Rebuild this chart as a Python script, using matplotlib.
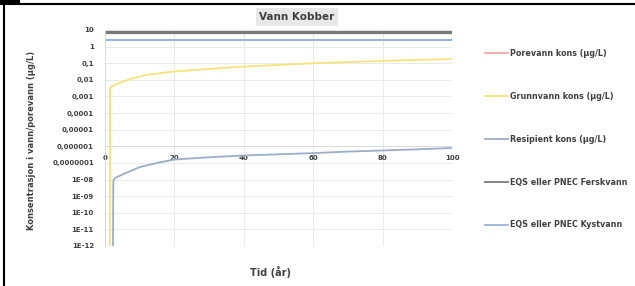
import matplotlib
matplotlib.use("Agg")
import matplotlib.pyplot as plt
from matplotlib.lines import Line2D

# ---------------- data ----------------
title = "Vann Kobber"
x_label = "Tid (år)"
y_label = "Konsentrasjon i vann/porevann (µg/L)"

series_names = ["Porevann kons (µg/L)", "Grunnvann kons (µg/L)", "Resipient kons (µg/L)",
                "EQS eller PNEC Ferskvann", "EQS eller PNEC Kystvann"]

porevann_t = []
porevann_v = []

grunnvann_t = [1.4, 1.5, 2, 4, 8, 12, 20, 30, 40, 50, 60, 70, 80, 90, 100]
grunnvann_v = [1e-12, 3.2e-3, 4.0e-3, 6.3e-3, 1.26e-2, 2.0e-2, 3.2e-2, 4.5e-2,
               6.3e-2, 7.9e-2, 0.10, 0.117, 0.138, 0.158, 0.178]

resipient_t = [2.3, 2.4, 3, 5, 10, 15, 20, 30, 40, 50, 60, 70, 80, 90, 100]
resipient_v = [1e-12, 8.9e-9, 1.26e-8, 2.0e-8, 5.6e-8, 1.0e-7, 1.6e-7, 2.2e-7,
               2.8e-7, 3.3e-7, 3.9e-7, 4.8e-7, 5.6e-7, 6.6e-7, 7.9e-7]

eqs_t = [0, 100]
eqs_fersk = [7.8, 7.8]
eqs_kyst = [2.6, 2.6]

y_ticks = [10, 1, 0.1, 0.01, 0.001, 1e-4, 1e-5, 1e-6, 1e-7, 1e-8, 1e-9, 1e-10, 1e-11, 1e-12]
y_tick_labels = ["10", "1", "0,1", "0,01", "0,001", "0,0001", "0,00001", "0,000001",
                 "0,0000001", "1E-08", "1E-09", "1E-10", "1E-11", "1E-12"]
x_ticks = [0, 20, 40, 60, 80, 100]
x_tick_labels = ["0", "20", "40", "60", "80", "100"]

colors = ["#f4a0a0", "#f7e27a", "#9aaec8", "#7a7a7a", "#9db3dd"]
widths = [1.2, 1.3, 1.3, 2.3, 1.5]

# ---------------- figure ----------------
fig = plt.figure(figsize=(6.35, 2.86), dpi=100)
ax = fig.add_axes([105/635, 1-246/286, (452-105)/635, (246-30)/286])

ax.plot(porevann_t, porevann_v, color=colors[0], lw=widths[0])
ax.plot(grunnvann_t, grunnvann_v, color=colors[1], lw=widths[1])
ax.plot(resipient_t, resipient_v, color=colors[2], lw=widths[2])
ax.plot(eqs_t, eqs_fersk, color=colors[3], lw=widths[3], solid_capstyle="butt")
ax.plot(eqs_t, eqs_kyst, color=colors[4], lw=widths[4], solid_capstyle="butt")

ax.set_yscale("log")
ax.set_ylim(1e-12, 10)
ax.set_xlim(0, 100)
ax.set_yticks(y_ticks)
ax.set_yticklabels(y_tick_labels)
ax.minorticks_off()
ax.set_xticks(x_ticks)
ax.set_xticklabels(x_tick_labels)

ax.grid(True, which="major", color="#e6e6e6", lw=0.6)
ax.set_axisbelow(True)
for s in ["top", "right"]:
    ax.spines[s].set_visible(False)
ax.spines["left"].set_color("#d9d9d9")
ax.spines["left"].set_linewidth(0.6)
ax.spines["bottom"].set_position(("data", 1e-6))
ax.spines["bottom"].set_color("#d9d9d9")
ax.spines["bottom"].set_linewidth(0.6)
ax.tick_params(axis="both", length=0, labelsize=5, labelcolor="#404040")
ax.tick_params(axis="x", pad=6)
ax.tick_params(axis="y", pad=8)
for lab in ax.get_xticklabels() + ax.get_yticklabels():
    lab.set_fontweight("bold")

# title with light grey box
fig.text(297/635, 1-17/286, title, ha="center", va="center", fontsize=7.5,
         fontweight="bold", color="#404040",
         bbox=dict(boxstyle="square,pad=0.35", facecolor="#e8e8e8", edgecolor="none"))

fig.text(270/635, 1-272/286, x_label, ha="center", va="center", fontsize=7,
         fontweight="bold", color="#404040")
fig.text(32/635, 1-140/286, y_label, ha="center", va="center", rotation=90,
         fontsize=6, fontweight="bold", color="#404040")

# legend
handles = [Line2D([], [], color=c, lw=min(w, 1.3)) for c, w in zip(colors, widths)]
leg = fig.legend(handles, series_names, loc="upper left",
                 bbox_to_anchor=(485/635, 1-49/286), frameon=False,
                 fontsize=5.8, handlelength=2.85, handletextpad=0.25,
                 labelspacing=4.2, borderaxespad=0, borderpad=0)
for t in leg.get_texts():
    t.set_fontweight("bold")
    t.set_color("#404040")

# frame lines of the original image
fig.add_artist(Line2D([0, 1], [1-4/286, 1-4/286], color="black", lw=1.5,
                      transform=fig.transFigure))
fig.add_artist(Line2D([4/635, 4/635], [0, 1-4/286], color="black", lw=1.5,
                      transform=fig.transFigure))
fig.add_artist(Line2D([0, 18/635], [1-2/286, 1-2/286], color="black", lw=3,
                      transform=fig.transFigure))

fig.savefig("out.png", dpi=100)
